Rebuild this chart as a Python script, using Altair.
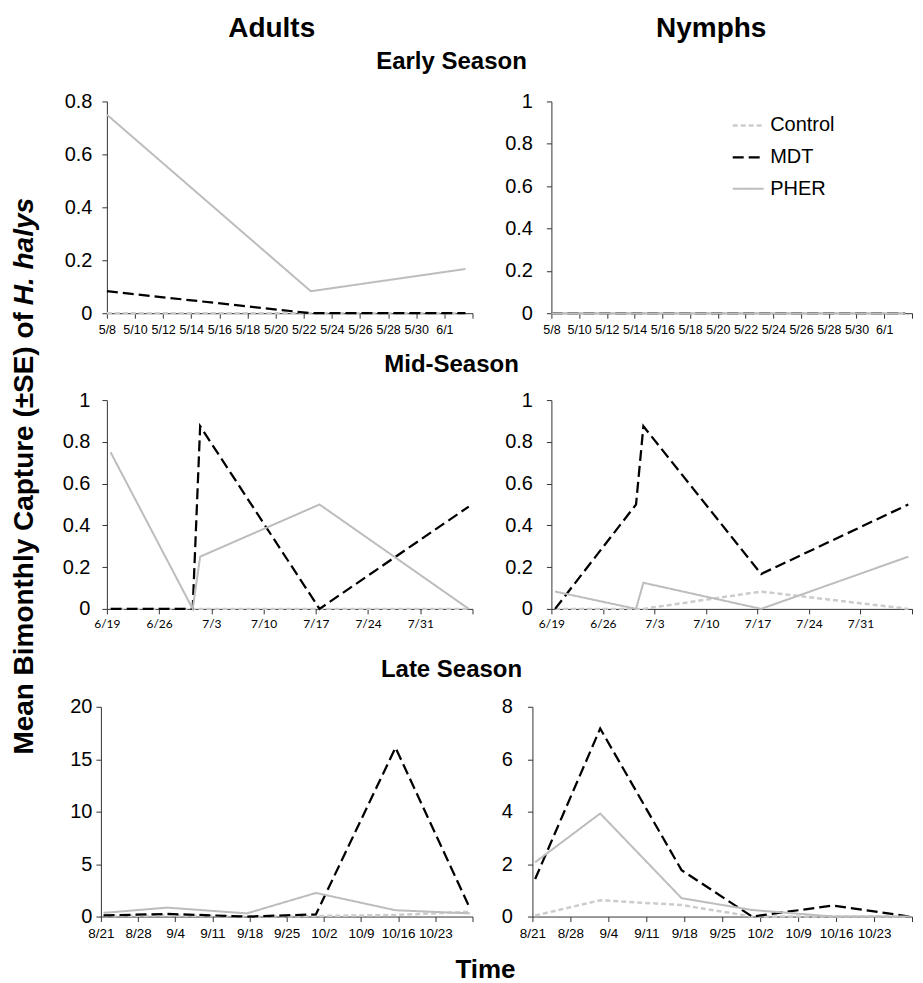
import altair as alt
import pandas as pd
from datetime import datetime, timezone

YEAR = "2013"
SERIES = ["Control", "MDT", "PHER"]
SERIES_COLORS = ["#cccccc", "#000000", "#bdbdbd"]
SERIES_DASHES = [[5, 3], [11, 5], [1, 0]]
SERIES_WIDTHS = [2.5, 2.0, 3.0]

# ---------------- Early season ----------------
EARLY_DATES = ["05-08T00:00", "05-22T12:00", "06-02T12:00"]
EARLY_DOMAIN = ["05-08T00:00", "06-03T00:00"]
EARLY_TICKS = ["05-08", "05-10", "05-12", "05-14", "05-16", "05-18", "05-20",
               "05-22", "05-24", "05-26", "05-28", "05-30", "06-01", "06-03"]
EARLY_ADULT_CONTROL = [0.0, 0.0, 0.0]
EARLY_ADULT_MDT = [0.083, 0.0, 0.0]
EARLY_ADULT_PHER = [0.75, 0.083, 0.167]
EARLY_NYMPH_CONTROL = [0.0, 0.0, 0.0]
EARLY_NYMPH_MDT = [0.0, 0.0, 0.0]
EARLY_NYMPH_PHER = [0.0, 0.0, 0.0]

# ---------------- Mid season ----------------
MID_DATES = ["06-19T12:00", "06-30T12:00", "07-01T12:00", "07-17T12:00", "08-06T12:00"]
MID_DOMAIN = ["06-19T00:00", "08-07T00:00"]
MID_TICKS = ["06-19", "06-26", "07-03", "07-10", "07-17", "07-24", "07-31", "08-07"]
MID_ADULT_CONTROL = [0.0, 0.0, 0.0, 0.0, 0.0]
MID_ADULT_MDT = [0.0, 0.0, 0.875, 0.0, 0.49]
MID_ADULT_PHER = [0.75, 0.0, 0.25, 0.5, 0.0]
MID_NYMPH_CONTROL = [0.0, 0.0, 0.0, 0.083, 0.0]
MID_NYMPH_MDT = [0.0, 0.5, 0.875, 0.167, 0.5]
MID_NYMPH_PHER = [0.083, 0.0, 0.125, 0.0, 0.25]

# ---------------- Late season ----------------
LATE_DATES = ["08-21T12:00", "09-02T12:00", "09-17T12:00", "09-30T12:00", "10-15T12:00", "10-29T12:00"]
LATE_DOMAIN = ["08-21T00:00", "10-30T00:00"]
LATE_TICKS = ["08-21", "08-28", "09-04", "09-11", "09-18", "09-25", "10-02",
              "10-09", "10-16", "10-23", "10-30"]
LATE_ADULT_CONTROL = [0.05, 0.1, 0.0, 0.05, 0.15, 0.45]
LATE_ADULT_MDT = [0.1, 0.25, 0.0, 0.2, 16.1, 0.8]
LATE_ADULT_PHER = [0.35, 0.85, 0.3, 2.25, 0.6, 0.3]
LATE_NYMPH_CONTROL = [0.04, 0.62, 0.44, 0.0, 0.0, 0.0]
LATE_NYMPH_MDT = [1.43, 7.17, 1.77, 0.0, 0.42, 0.0]
LATE_NYMPH_PHER = [2.07, 3.93, 0.7, 0.25, 0.0, 0.0]

Y_TICKS_08 = [0, 0.2, 0.4, 0.6, 0.8]
Y_TICKS_1 = [0, 0.2, 0.4, 0.6, 0.8, 1]
Y_TICKS_20 = [0, 5, 10, 15, 20]
Y_TICKS_8 = [0, 2, 4, 6, 8]

FONT = "Liberation Sans"
AXIS_COLOR = "#333333"


def to_ms(s):
    d = datetime.fromisoformat(f"{YEAR}-{s}").replace(tzinfo=timezone.utc)
    return int(d.timestamp() * 1000)


def legend_def(show):
    if not show:
        return None
    return alt.Legend(orient="none", legendX=180, legendY=7, title=None,
                      symbolType="stroke", symbolSize=960,
                      labelFont=FONT, labelFontSize=20, labelColor="black",
                      labelOffset=5, rowPadding=5, padding=0)


def panel(dates, control, mdt, pher, domain, ticks, ymax, yticks,
          width, height, xfont, xsize, ypad, show_legend=False):
    rows = []
    for s, vals in zip(SERIES, [control, mdt, pher]):
        for d, v in zip(dates, vals):
            rows.append({"date": to_ms(d), "series": s, "value": v})
    df = pd.DataFrame(rows)
    end_ms = to_ms(ticks[-1])
    xax = alt.Axis(values=[to_ms(t) for t in ticks],
                   labelExpr=f"datum.value >= {end_ms} ? '' : utcFormat(datum.value, '%-m/%-d')",
                   title=None, labelFont=xfont, labelFontSize=xsize, labelColor="black",
                   labelOverlap=False, labelFlush=False, labelPadding=5,
                   tickSize=5, tickColor=AXIS_COLOR, domainColor=AXIS_COLOR, grid=False)
    yax = alt.Axis(values=yticks, format="~g", title=None, labelFont=FONT,
                   labelFontSize=20, labelColor="black", labelPadding=ypad,
                   tickSize=5, tickColor=AXIS_COLOR, domainColor=AXIS_COLOR, grid=False)
    leg = legend_def(show_legend)
    enc = dict(
        x=alt.X("date:T", scale=alt.Scale(type="utc", domain=[to_ms(domain[0]), to_ms(domain[1])], nice=False), axis=xax),
        y=alt.Y("value:Q", scale=alt.Scale(domain=[0, ymax], nice=False), axis=yax),
        color=alt.Color("series:N", scale=alt.Scale(domain=SERIES, range=SERIES_COLORS), legend=leg),
        strokeDash=alt.StrokeDash("series:N", scale=alt.Scale(domain=SERIES, range=SERIES_DASHES), legend=leg),
        strokeWidth=alt.StrokeWidth("series:N", scale=alt.Scale(domain=SERIES, range=SERIES_WIDTHS), legend=leg),
    )
    return alt.Chart(df).mark_line().encode(**enc).properties(width=width, height=height)


def text_item(txt, x, y, size, style="normal", angle=0, align="center"):
    return alt.Chart(alt.Data(values=[{}])).mark_text(
        text=txt, font=FONT, fontSize=size, fontWeight="bold", fontStyle=style,
        angle=angle, align=align, baseline="alphabetic" if angle == 0 else "middle",
        color="black"
    ).encode(x=alt.value(x), y=alt.value(y))


def spacer(w, h):
    return alt.Chart(alt.Data(values=[{}])).mark_point(opacity=0).encode(
        x=alt.value(0), y=alt.value(0)).properties(width=w, height=h)


def indep(c):
    return c.resolve_scale(color="independent", strokeDash="independent", strokeWidth="independent") \
            .resolve_legend(color="independent", strokeDash="independent", strokeWidth="independent")


STRIP_W = 800

ea = panel(EARLY_DATES, EARLY_ADULT_CONTROL, EARLY_ADULT_MDT, EARLY_ADULT_PHER, EARLY_DOMAIN,
           EARLY_TICKS, 0.8, Y_TICKS_08, 366, 212, FONT, 12.5, 10)
en = panel(EARLY_DATES, EARLY_NYMPH_CONTROL, EARLY_NYMPH_MDT, EARLY_NYMPH_PHER, EARLY_DOMAIN,
           EARLY_TICKS, 1, Y_TICKS_1, 361, 212, FONT, 12.5, 14, show_legend=True)
ma = panel(MID_DATES, MID_ADULT_CONTROL, MID_ADULT_MDT, MID_ADULT_PHER, MID_DOMAIN,
           MID_TICKS, 1, Y_TICKS_1, 366, 209, "Lato", 12, 12)
mn = panel(MID_DATES, MID_NYMPH_CONTROL, MID_NYMPH_MDT, MID_NYMPH_PHER, MID_DOMAIN,
           MID_TICKS, 1, Y_TICKS_1, 361, 209, "Lato", 12, 14)
la = panel(LATE_DATES, LATE_ADULT_CONTROL, LATE_ADULT_MDT, LATE_ADULT_PHER, LATE_DOMAIN,
           LATE_TICKS, 20, Y_TICKS_20, 372, 210, FONT, 13.5, 4)
ln = panel(LATE_DATES, LATE_NYMPH_CONTROL, LATE_NYMPH_MDT, LATE_NYMPH_PHER, LATE_DOMAIN,
           LATE_TICKS, 8, Y_TICKS_8, 380, 210, FONT, 13.5, 15)

row1 = indep(alt.hconcat(spacer(1, 1), indep(alt.hconcat(ea, en, spacing=79, bounds="flush")),
                         spacing=5, bounds="flush"))
row2 = indep(alt.hconcat(spacer(1, 1), indep(alt.hconcat(ma, mn, spacing=79, bounds="flush")),
                         spacing=5, bounds="flush"))
row3 = indep(alt.hconcat(la, ln, spacing=60, bounds="flush"))

strip0 = alt.layer(
    text_item("Adults", 171, 28, 28),
    text_item("Nymphs", 611, 28, 28),
    text_item("Early Season", 351, 61, 24),
).properties(width=STRIP_W, height=83)
strip1 = alt.layer(text_item("Mid-Season", 351, 36, 24)).properties(width=STRIP_W, height=54)
strip2 = alt.layer(text_item("Late Season", 351, 47, 24)).properties(width=STRIP_W, height=67)
strip3 = alt.layer(text_item("Time", 385, 38, 26)).properties(width=STRIP_W, height=40)

ylab = alt.layer(
    text_item("Mean Bimonthly Capture (±SE) of", 17, 304, 28, angle=270, align="right"),
    text_item("H. halys", 17, 297, 28, style="italic", angle=270, align="left"),
).properties(width=93, height=900)

main = indep(alt.vconcat(strip0, row1, strip1, row2, strip2, row3, strip3, spacing=0, bounds="full"))

chart = indep(alt.hconcat(ylab, main, spacing=0, bounds="flush")).properties(
    padding=0
).configure(font=FONT, view=alt.ViewConfig(stroke="transparent", strokeWidth=0))

chart.save("out.html", embed_options={"renderer": "svg", "actions": False})
